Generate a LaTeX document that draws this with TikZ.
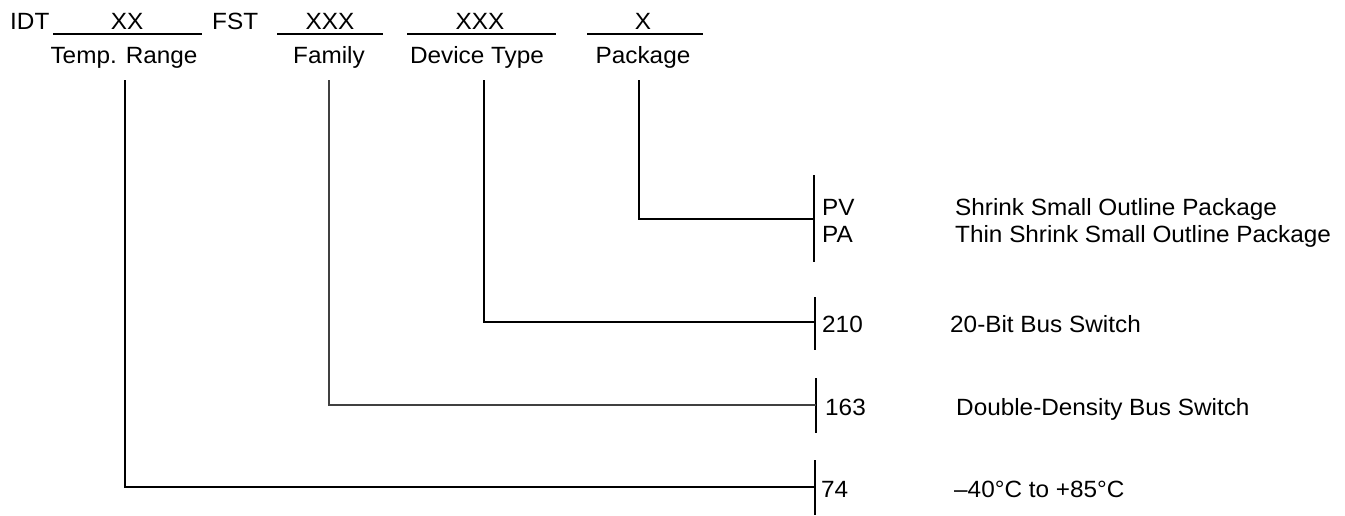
\documentclass[tikz,border=0pt]{standalone}
\usepackage{fontspec}
\setmainfont{Liberation Sans}[FakeStretch=1.035]
\begin{document}
\begin{tikzpicture}[x=1pt,y=-1pt,
  txt/.style={inner sep=0pt,anchor=base,font=\fontsize{23.5}{26}\selectfont},
  txtw/.style={txt,anchor=base west},
  rule/.style={line width=2pt},
  conn/.style={line width=2pt},
  thinconn/.style={line width=1.2pt,draw=black!75}]
\useasboundingbox (0,0) rectangle (1345,515);
% header
\node[txtw] (idt) at (10,29) {IDT};
\node[txt] (xx) at (127,29) {XX};
\node[txtw] (fst) at (212,29) {FST};
\node[txt] (xxxf) at (330,29) {XXX};
\node[txt] (xxxd) at (480,29) {XXX};
\node[txt] (xp) at (643,29) {X};
\draw[rule] (53,34) -- (202,34);
\draw[rule] (277,34) -- (383,34);
\draw[rule] (407,34) -- (556,34);
\draw[rule] (587,34) -- (703,34);
\node[txt] (ltemp) at (124,63) {Temp. Range};
\node[txt] (lfam) at (329,63) {Family};
\node[txt] (ldev) at (477,63) {Device Type};
\node[txt] (lpkg) at (643,63) {Package};
% connector starts
\coordinate (ct) at (125,80);
\coordinate (cf) at (329,80);
\coordinate (cd) at (484,80);
\coordinate (cp) at (639,80);
% bracket junctions
\coordinate (bp) at (814,219);
\coordinate (bd) at (815,322);
\coordinate (bf) at (816,405);
\coordinate (bt) at (815,487);
% brackets
\draw[conn] (814,175) -- (814,262);
\draw[conn] (815,297) -- (815,350);
\draw[conn] (816,378) -- (816,433);
\draw[conn] (815,460) -- (815,515);
% connectors
\draw[conn] (cp) |- (bp);
\draw[conn] (cd) |- (bd);
\draw[thinconn] (cf) |- (bf);
\draw[conn] (ct) |- (bt);
% right texts
\node[txtw] (pv) at (822,215) {PV};
\node[txtw] (pa) at (822,242) {PA};
\node[txtw] (dpv) at (955,215) {Shrink Small Outline Package};
\node[txtw] (dpa) at (955,242) {Thin Shrink Small Outline Package};
\node[txtw] (c210) at (822,332) {210};
\node[txtw] (d210) at (950,332) {20-Bit Bus Switch};
\node[txtw] (c163) at (825,415) {163};
\node[txtw] (d163) at (956,415) {Double-Density Bus Switch};
\node[txtw] (c74) at (821,497) {74};
\node[txtw] (d74) at (954,497) {–40°C to +85°C};
\end{tikzpicture}
\end{document}
